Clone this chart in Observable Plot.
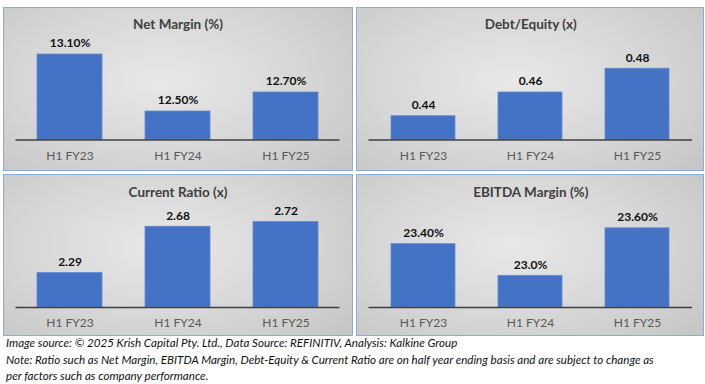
<!DOCTYPE html>
<html>
<head>
<meta charset="utf-8">
<script src="https://cdn.jsdelivr.net/npm/d3@7"></script>
<script src="https://cdn.jsdelivr.net/npm/@observablehq/plot@0.6"></script>
<style>
  body { margin: 0; background: #fff; }
  #wrap { position: relative; width: 705px; height: 384px; font-family: Lato, "Open Sans", sans-serif; overflow: hidden; }
  .panel { position: absolute; box-sizing: border-box; border: 1.5px solid #8eaadb;
    background: radial-gradient(ellipse 75% 85% at 45% 45%, #e8e8e8 0%, #d6d6d6 55%, #c4c4c4 100%); }
  .panel svg { position: absolute; left: 0; top: 0; }
  .note { position: absolute; left: 6px; font-style: italic; font-size: 11.6px; line-height: 14px; color: #111; white-space: nowrap; font-family: Lato, "Open Sans", sans-serif; }
</style>
</head>
<body>
<div id="wrap"></div>
<script>
const categories = ["H1 FY23", "H1 FY24", "H1 FY25"];

const netMargin = [13.10, 12.50, 12.70];
const netMarginLabels = ["13.10%", "12.50%", "12.70%"];

const debtEquity = [0.44, 0.46, 0.48];
const debtEquityLabels = ["0.44", "0.46", "0.48"];

const currentRatio = [2.29, 2.68, 2.72];
const currentRatioLabels = ["2.29", "2.68", "2.72"];

const ebitdaMargin = [23.40, 23.0, 23.60];
const ebitdaMarginLabels = ["23.40%", "23.0%", "23.60%"];

const titles = ["Net Margin (%)", "Debt/Equity (x)", "Current Ratio (x)", "EBITDA Margin (%)"];

const notes = [
  "Image source: © 2025 Krish Capital Pty. Ltd., Data Source: REFINITIV, Analysis: Kalkine Group",
  "Note: Ratio such as Net Margin, EBITDA Margin, Debt-Equity & Current Ratio are on half year ending basis and are subject to change as",
  "per factors such as company performance."
];

const panels = [
  {title: titles[0], values: netMargin, labels: netMarginLabels, domain: [12.2, 13.2],
   left: 3, top: 7, w: 350, h: 164, mr: 11.5, mb: 29.5},
  {title: titles[1], values: debtEquity, labels: debtEquityLabels, domain: [0.42, 0.50],
   left: 355.5, top: 7, w: 348, h: 164, mr: 10, mb: 29.5},
  {title: titles[2], values: currentRatio, labels: currentRatioLabels, domain: [2.0, 2.8],
   left: 3, top: 173.5, w: 350, h: 162, mr: 11.5, mb: 27},
  {title: titles[3], values: ebitdaMargin, labels: ebitdaMarginLabels, domain: [22.6, 23.8],
   left: 355.5, top: 173.5, w: 348, h: 162, mr: 10, mb: 27}
];

const wrap = document.getElementById("wrap");

for (const p of panels) {
  const div = document.createElement("div");
  div.className = "panel";
  Object.assign(div.style, {left: p.left + "px", top: p.top + "px", width: p.w + "px", height: p.h + "px"});
  const iw = p.w - 3, ih = p.h - 3;
  const mt = ih - p.mb - 95;
  const rows = categories.map((c, i) => ({cat: c, value: p.values[i], label: p.labels[i]}));
  const base = p.domain[0];
  const chart = Plot.plot({
    width: iw,
    height: ih,
    marginLeft: 11.5,
    marginRight: p.mr,
    marginTop: mt,
    marginBottom: p.mb,
    style: {background: "transparent", overflow: "visible", fontFamily: "Lato, 'Open Sans', sans-serif"},
    x: {domain: categories, paddingInner: 0.4, paddingOuter: 0.2, axis: null},
    y: {domain: p.domain, axis: null},
    marks: [
      Plot.barY(rows, {x: "cat", y1: () => base, y2: "value", fill: "#4472c4", stroke: "#6289d2", strokeWidth: 0.8}),
      Plot.ruleY([base], {stroke: "#3f3f3f", strokeWidth: 1.5}),
      Plot.text(rows, {x: "cat", y: "value", text: "label", lineAnchor: "middle", dy: -11,
        fontWeight: "bold", fontSize: 12, fill: "#111"}),
      Plot.text(rows, {x: "cat", text: "cat", frameAnchor: "bottom", lineAnchor: "middle", dy: 16,
        fontSize: 12, fill: "#595959"}),
      Plot.text([p.title], {text: d => d, frameAnchor: "top", lineAnchor: "middle", dy: -20,
        fontWeight: "bold", fontSize: 13.5, fill: "#404040"})
    ]
  });
  div.appendChild(chart);
  wrap.appendChild(div);
}

const noteTops = [336, 353, 369];
notes.forEach((t, i) => {
  const n = document.createElement("div");
  n.className = "note";
  n.style.top = noteTops[i] + "px";
  n.textContent = t;
  wrap.appendChild(n);
});
</script>
</body>
</html>
